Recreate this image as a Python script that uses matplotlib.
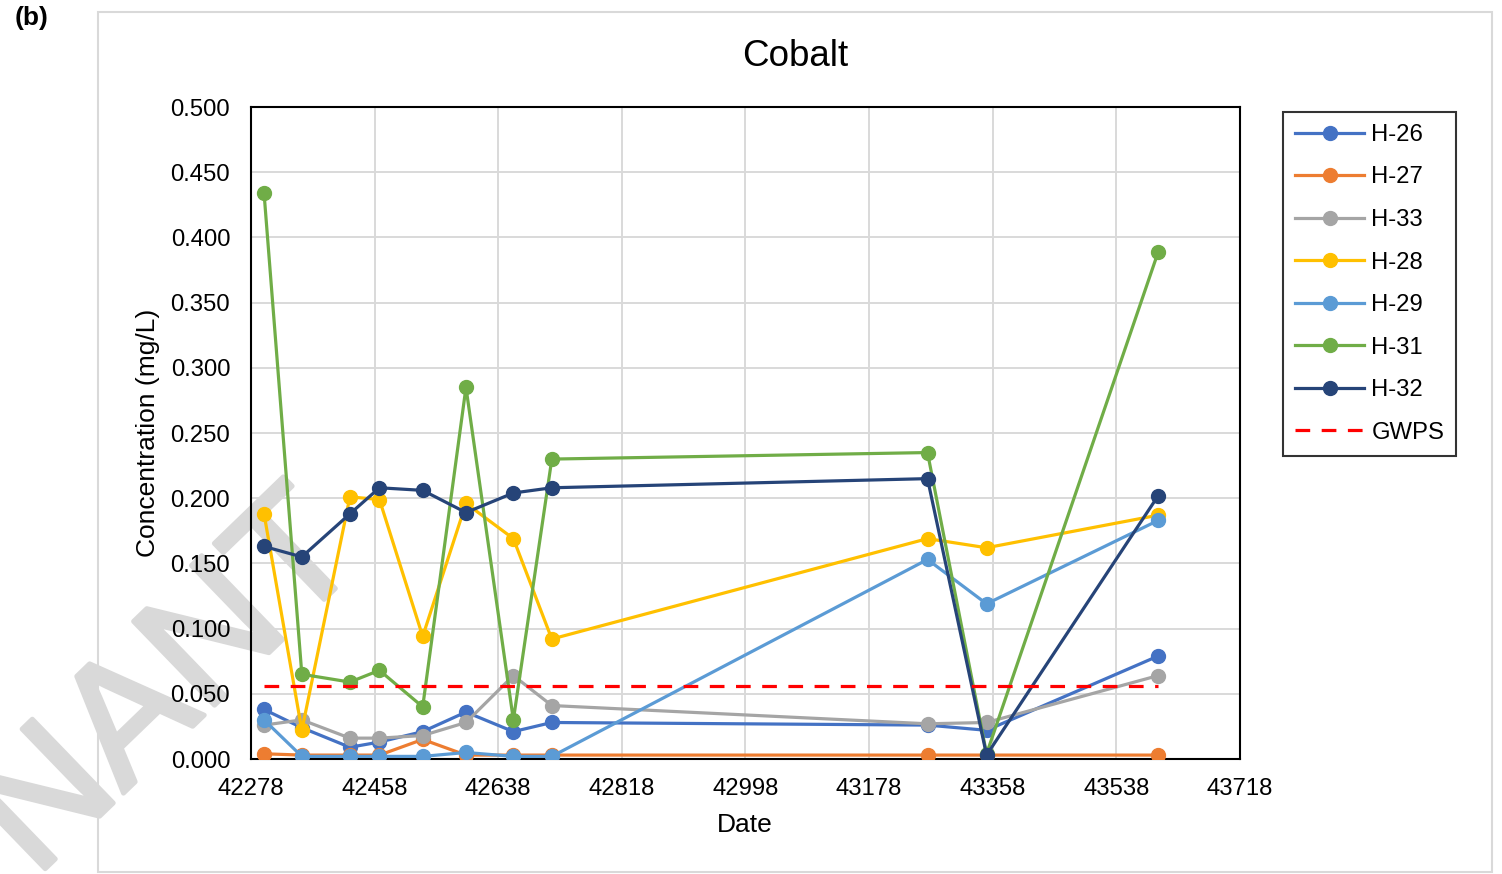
import matplotlib
matplotlib.use("Agg")
import matplotlib.pyplot as plt
import matplotlib.patheffects as pe
from matplotlib.patches import Rectangle

plt.rcParams['font.family'] = ['Liberation Sans', 'DejaVu Sans']

# sample dates (Excel serial numbers)
dates = [42297, 42352, 42422, 42465, 42528, 42591, 42660, 42716, 43263, 43349, 43599]

h26 = [0.038, 0.024, 0.009, 0.013, 0.021, 0.036, 0.021, 0.028, 0.026, 0.022, 0.079]
h27 = [0.004, 0.003, 0.003, 0.003, 0.015, 0.003, 0.003, 0.003, 0.003, 0.003, 0.003]
h33 = [0.026, 0.030, 0.016, 0.016, 0.018, 0.028, 0.064, 0.041, 0.027, 0.028, 0.064]
h28 = [0.188, 0.022, 0.201, 0.199, 0.094, 0.196, 0.169, 0.092, 0.169, 0.162, 0.187]
h29 = [0.030, 0.002, 0.002, 0.002, 0.002, 0.005, 0.002, 0.002, 0.153, 0.119, 0.183]
h31 = [0.434, 0.065, 0.059, 0.068, 0.040, 0.285, 0.030, 0.230, 0.235, 0.004, 0.389]
h32 = [0.163, 0.155, 0.188, 0.208, 0.206, 0.189, 0.204, 0.208, 0.215, 0.003, 0.202]
gwps = 0.056

series = [
    ("H-26", h26, "#4472C4"),
    ("H-27", h27, "#ED7D31"),
    ("H-33", h33, "#A5A5A5"),
    ("H-28", h28, "#FFC000"),
    ("H-29", h29, "#5B9BD5"),
    ("H-31", h31, "#70AD47"),
    ("H-32", h32, "#264478"),
]

W, H = 1502, 874
fig = plt.figure(figsize=(W / 100, H / 100), dpi=100)
fig.patch.set_facecolor("white")

# outer chart-area border
fig.add_artist(Rectangle((98 / W, 1 - 872 / H), (1492 - 98) / W, (872 - 12) / H,
                         transform=fig.transFigure, fill=False,
                         edgecolor="#d9d9d9", linewidth=1.5, zorder=-2))

# watermark, mostly off the page
wm = fig.text(367 / W, 1 - 558 / H, "NANT", fontsize=122, color="#d9d9d9",
              rotation=44, rotation_mode="anchor", ha="right", va="baseline",
              zorder=-1)
wm.set_path_effects([pe.withStroke(linewidth=3.5, foreground="#d9d9d9")])

ax = fig.add_axes([251 / W, 1 - 759 / H, (1240 - 251) / W, (759 - 107) / H])
ax.set_facecolor("none")

for name, vals, col in series:
    ax.plot(dates, vals, color=col, lw=2.3, marker="o", markersize=10,
            label=name, zorder=3)
ax.plot([dates[0], dates[-1]], [gwps, gwps], color="#FF0000", lw=2.3,
        linestyle=(0, (4.6, 3.6)), label="GWPS", zorder=3)

ax.set_xlim(42278, 43718)
ax.set_ylim(0, 0.5)
ax.set_xticks(range(42278, 43719, 180))
ax.set_yticks([i * 0.05 for i in range(11)])
ax.set_yticklabels([f"{i * 0.05:.3f}" for i in range(11)])
ax.tick_params(axis="both", length=0, labelsize=17.2)
ax.tick_params(axis="y", pad=15)
ax.tick_params(axis="x", pad=14)
ax.grid(True, color="#d9d9d9", lw=1.4, zorder=0)
ax.set_axisbelow(True)
for sp in ax.spines.values():
    sp.set_color("black")
    sp.set_linewidth(1.5)

fig.text(795 / W, 1 - 66 / H, "Cobalt", fontsize=26.5, ha="center", va="baseline")
fig.text(745 / W, 1 - 825 / H, "Date", fontsize=19, ha="center", va="center")
fig.text(148 / W, 1 - 433 / H, "Concentration (mg/L)", fontsize=19,
         rotation=90, ha="center", va="center")

leg = ax.legend(loc="upper left", bbox_to_anchor=(1283 / W, 1 - 112 / H),
                bbox_transform=fig.transFigure, fontsize=17.2, frameon=True,
                fancybox=False, edgecolor="black", handlelength=2.9,
                labelspacing=0.86, borderpad=0.5, handletextpad=0.3,
                borderaxespad=0)
leg.get_frame().set_linewidth(1.5)

fig.text(15 / W, 1 - 18 / H, "(b)", fontsize=19, fontweight="bold",
         ha="left", va="center")

fig.savefig("out.png", dpi=100)
